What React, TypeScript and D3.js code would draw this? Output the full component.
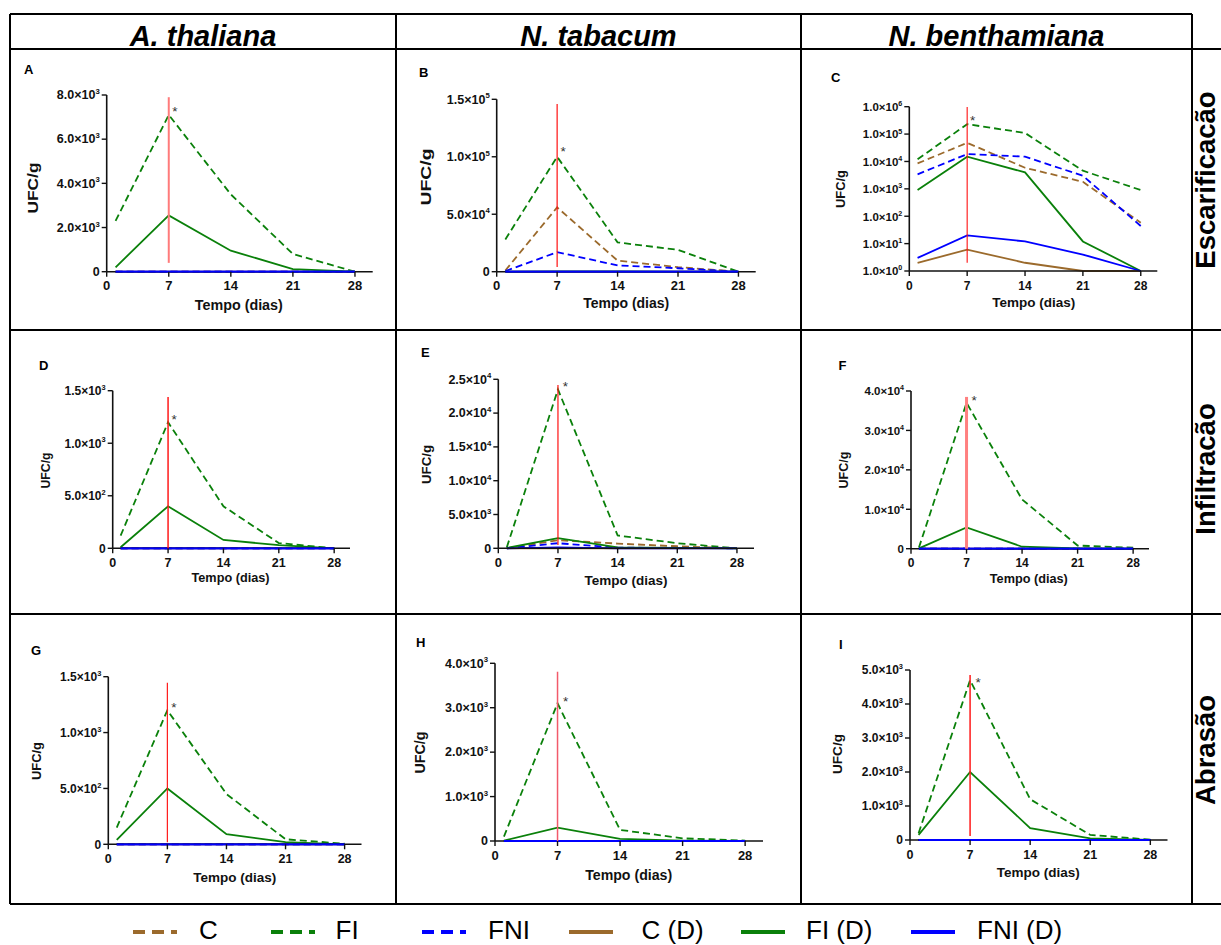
import React from "react";
import * as d3 from "d3";

// sampling days (x) and series order
const days = [1, 7, 14, 21, 28];
const seriesNames = ["C", "FI", "FNI", "C (D)", "FI (D)", "FNI (D)"];
const seriesColors = ["#9b6a2c", "#0a800a", "#0000ff", "#9b6a2c", "#0a800a", "#0000ff"];
const seriesDashed = [true, true, true, false, false, false];

const columnTitles = ["A. thaliana", "N. tabacum", "N. benthamiana"];
const rowTitles = ["Escarificacão", "Infiltracão", "Abrasão"];
const xTicks = [0, 7, 14, 21, 28];

// values per panel, in seriesNames order (UFC/g)
const valuesA = [
  [0, 0, 0, 0, 0],
  [2300, 7100, 3500, 800, 0],
  [0, 0, 0, 0, 0],
  [0, 0, 0, 0, 0],
  [200, 2550, 950, 120, 0],
  [0, 0, 0, 0, 0],
];
const valuesB = [
  [1000, 56000, 9600, 4000, 0],
  [28000, 100000, 25500, 19000, 0],
  [500, 17000, 5500, 3000, 0],
  [0, 0, 0, 0, 0],
  [100, 300, 200, 50, 0],
  [0, 0, 0, 0, 0],
];
const valuesC = [
  [8500, 48000, 5900, 1800, 58],
  [12000, 230000, 110000, 4600, 900],
  [3400, 18600, 15000, 3000, 44],
  [2, 6, 2, 1, 1],
  [900, 15000, 4000, 12, 1],
  [3, 20, 12, 4, 1],
];
const valuesD = [
  [0, 0, 0, 0, 0],
  [120, 1200, 400, 50, 0],
  [0, 0, 0, 0, 0],
  [0, 0, 0, 0, 0],
  [10, 400, 80, 30, 0],
  [0, 0, 0, 0, 0],
];
const valuesE = [
  [0, 1200, 700, 300, 0],
  [150, 23500, 1900, 750, 0],
  [0, 750, 100, 50, 0],
  [0, 0, 0, 0, 0],
  [50, 1500, 150, 50, 0],
  [0, 150, 0, 0, 0],
];
const valuesF = [
  [0, 0, 0, 0, 0],
  [300, 37000, 12500, 800, 250],
  [0, 0, 0, 0, 0],
  [0, 0, 0, 0, 0],
  [100, 5400, 500, 100, 0],
  [0, 0, 0, 0, 0],
];
const valuesG = [
  [0, 0, 0, 0, 0],
  [150, 1200, 450, 45, 5],
  [0, 0, 0, 0, 0],
  [0, 0, 0, 0, 0],
  [40, 500, 90, 20, 0],
  [0, 0, 0, 0, 0],
];
const valuesH = [
  [0, 0, 0, 0, 0],
  [100, 3100, 250, 60, 10],
  [0, 0, 0, 0, 0],
  [0, 0, 0, 0, 0],
  [10, 300, 50, 10, 0],
  [0, 0, 0, 0, 0],
];
const valuesI = [
  [0, 0, 0, 0, 0],
  [200, 4700, 1200, 150, 10],
  [0, 0, 0, 0, 0],
  [0, 0, 0, 0, 0],
  [150, 2000, 350, 50, 0],
  [0, 0, 0, 0, 0],
];

// y tick values per panel
const yTicksA = [0, 2000, 4000, 6000, 8000];
const yTicksB = [0, 50000, 100000, 150000];
const yTicksC = [1, 10, 100, 1000, 10000, 100000, 1000000];
const yTicksD = [0, 500, 1000, 1500];
const yTicksE = [0, 5000, 10000, 15000, 20000, 25000];
const yTicksF = [0, 10000, 20000, 30000, 40000];
const yTicksG = [0, 500, 1000, 1500];
const yTicksH = [0, 1000, 2000, 3000, 4000];
const yTicksI = [0, 1000, 2000, 3000, 4000, 5000];

// marker at day 7: vertical line extent and asterisk height (data units)
const markerA = { top: 7900, bottom: 400, star: 7400 };
const markerB = { top: 146000, bottom: 4000, star: 107000 };
const markerC = { top: 970000, bottom: 2, star: 420000 };
const markerD = { top: 1440, bottom: 0, star: 1250 };
const markerE = { top: 24150, bottom: 490, star: 24400 };
const markerF = { top: 38500, bottom: 0, star: 38400 };
const markerG = { top: 1446, bottom: 18, star: 1253 };
const markerH = { top: 3810, bottom: 0, star: 3200 };
const markerI = { top: 4850, bottom: 120, star: 4735 };

const FONT = "'Liberation Sans', Arial, Helvetica, sans-serif";

type Panel = {
  letter: string;
  values: number[][];
  yTicks: number[];
  marker: { top: number; bottom: number; star: number };
  log?: boolean;
  x0: number; x1: number; yTop: number; yBase: number;
  letterPos: [number, number];
  tickFs: number;
  yTitle: [number, number, number, number]; // cx, cy, length, font
  xTitle: [number, number, number, number];
  red: string; redW: number; starDx: number;
};

const panels: Panel[] = [
  { letter: "A", values: valuesA, yTicks: yTicksA, marker: markerA, x0: 106.7, x1: 372.7, yTop: 95, yBase: 271.7,
    letterPos: [24, 74], tickFs: 12.5, yTitle: [32.5, 188, 51, 15], xTitle: [238.8, 310, 88, 14], red: "#ff7b7b", redW: 2, starDx: 6 },
  { letter: "B", values: valuesB, yTicks: yTicksB, marker: markerB, x0: 496.7, x1: 755.7, yTop: 99.3, yBase: 271.7,
    letterPos: [419, 77], tickFs: 12.5, yTitle: [425.5, 177, 57, 14], xTitle: [626.2, 308.3, 86, 14], red: "#ff1010", redW: 1.2, starDx: 6 },
  { letter: "C", values: valuesC, yTicks: yTicksC, marker: markerC, log: true, x0: 909.3, x1: 1157.3, yTop: 106.7, yBase: 271,
    letterPos: [831, 82], tickFs: 11.5, yTitle: [840, 189, 38, 12.5], xTitle: [1033.7, 307.3, 83, 13.5], red: "#ff1010", redW: 1.1, starDx: 5.5 },
  { letter: "D", values: valuesD, yTicks: yTicksD, marker: markerD, x0: 112.7, x1: 350, yTop: 390.7, yBase: 548.3,
    letterPos: [39, 370], tickFs: 12, yTitle: [45.5, 470.5, 36, 12], xTitle: [230.5, 582, 78, 12.5], red: "#ff1a1a", redW: 1.5, starDx: 6 },
  { letter: "E", values: valuesE, yTicks: yTicksE, marker: markerE, x0: 498.3, x1: 754, yTop: 379.3, yBase: 548.3,
    letterPos: [421, 357.3], tickFs: 12.5, yTitle: [426.5, 464.5, 39, 13], xTitle: [626, 585, 83, 13.5], red: "#ff1010", redW: 1.2, starDx: 7.5 },
  { letter: "F", values: valuesF, yTicks: yTicksF, marker: markerF, x0: 911, x1: 1149, yTop: 391, yBase: 548.7,
    letterPos: [838.5, 370], tickFs: 11.5, yTitle: [843.5, 470, 37, 12], xTitle: [1028.8, 582.7, 78, 12.5], red: "#ff8080", redW: 3, starDx: 7.5 },
  { letter: "G", values: valuesG, yTicks: yTicksG, marker: markerG, x0: 108.3, x1: 361.5, yTop: 676.7, yBase: 844.3,
    letterPos: [31, 655], tickFs: 12, yTitle: [36.8, 761, 38, 13], xTitle: [234.7, 881.7, 83, 13.5], red: "#ff1a1a", redW: 1.2, starDx: 6.5 },
  { letter: "H", values: valuesH, yTicks: yTicksH, marker: markerH, x0: 495, x1: 763, yTop: 663.3, yBase: 841,
    letterPos: [416, 646.7], tickFs: 12.5, yTitle: [419.5, 752.5, 42, 14], xTitle: [628.7, 880, 87, 14], red: "#f25a6a", redW: 1.5, starDx: 8 },
  { letter: "I", values: valuesI, yTicks: yTicksI, marker: markerI, x0: 910, x1: 1167.5, yTop: 670, yBase: 840,
    letterPos: [839, 649.3], tickFs: 12, yTitle: [837.5, 754, 40, 13], xTitle: [1038.3, 876.7, 83, 13.5], red: "#ff1a1a", redW: 1.5, starDx: 8 },
];

function tickParts(v: number): [string, string] | null {
  if (v === 0) return null;
  const e = Math.floor(Math.log10(v) + 1e-9);
  const m = v / Math.pow(10, e);
  return [m.toFixed(1), String(e)];
}

function PanelChart({ p }: { p: Panel }) {
  const xs = d3.scaleLinear().domain([0, 30]).range([p.x0, p.x1]);
  const yMax = p.yTicks[p.yTicks.length - 1];
  const ys = p.log
    ? d3.scaleLog().domain([1, yMax]).range([p.yBase, p.yTop])
    : d3.scaleLinear().domain([0, yMax]).range([p.yBase, p.yTop]);
  const line = d3
    .line<number>()
    .x((_, i) => xs(days[i]))
    .y((d) => ys(d));
  const fs = p.tickFs;
  const redX = xs(7);
  return (
    <g>
      <text x={p.letterPos[0]} y={p.letterPos[1]} fontSize={13} fontWeight="bold" fontFamily={FONT}>
        {p.letter}
      </text>
      {/* data lines */}
      {p.values.map((vals, i) => (
        <path
          key={i}
          d={line(vals) || ""}
          fill="none"
          stroke={seriesColors[i]}
          strokeWidth={1.8}
          strokeDasharray={seriesDashed[i] ? "7,4" : undefined}
        />
      ))}
      {/* axes */}
      <line x1={p.x0} x2={p.x0} y1={p.yTop} y2={p.yBase} stroke="#111" strokeWidth={1.6} />
      <line x1={p.x0} x2={p.x1} y1={p.yBase} y2={p.yBase} stroke="#111" strokeWidth={1.6} />
      {p.values[5].every((v) => v === 0) && !p.log ? (
        <path d={line(p.values[5]) || ""} fill="none" stroke={seriesColors[5]} strokeWidth={1.8} />
      ) : null}
      {p.yTicks.map((t) => {
        const y = ys(t);
        const parts = tickParts(t);
        const isZero = p.log ? false : t === 0;
        return (
          <g key={t}>
            <line x1={p.x0 - 5} x2={p.x0} y1={y} y2={y} stroke="#111" strokeWidth={1.4} />
            <text x={p.x0 - 7} y={y + 4.3} textAnchor="end" fontSize={fs} fontWeight="bold" fontFamily={FONT} fill="#111">
              {isZero || !parts ? (
                "0"
              ) : (
                <>
                  {parts[0]}×10
                  <tspan dy={-fs * 0.42} fontSize={fs * 0.62}>
                    {parts[1]}
                  </tspan>
                </>
              )}
            </text>
          </g>
        );
      })}
      {xTicks.map((t) => (
        <g key={t}>
          <line x1={xs(t)} x2={xs(t)} y1={p.yBase} y2={p.yBase + 5} stroke="#111" strokeWidth={1.4} />
          <text x={xs(t)} y={p.yBase + 18.5} textAnchor="middle" fontSize={fs + 0.5} fontWeight="bold" fontFamily={FONT} fill="#111">
            {t}
          </text>
        </g>
      ))}
      {/* day 7 marker */}
      <line x1={redX} x2={redX} y1={ys(p.marker.top)} y2={ys(p.marker.bottom)} stroke={p.red} strokeWidth={p.redW} />
      <text x={redX + p.starDx} y={ys(p.marker.star) + 7.5} textAnchor="middle" fontSize={13.5} fontFamily={FONT} fill="#333">
        *
      </text>
      {/* titles */}
      <text
        transform={`translate(${p.yTitle[0]},${p.yTitle[1]}) rotate(-90)`}
        textAnchor="middle"
        dy="0.36em"
        fontSize={p.yTitle[3]}
        fontWeight="bold"
        fontFamily={FONT}
        textLength={p.yTitle[2]}
        lengthAdjust="spacingAndGlyphs"
        fill="#111"
      >
        UFC/g
      </text>
      <text
        x={p.xTitle[0]}
        y={p.xTitle[1]}
        textAnchor="middle"
        fontSize={p.xTitle[3]}
        fontWeight="bold"
        fontFamily={FONT}
        textLength={p.xTitle[2]}
        lengthAdjust="spacingAndGlyphs"
        fill="#111"
      >
        Tempo (dias)
      </text>
    </g>
  );
}

// legend entries: symbol start x, text x
const legendSymbolX = [133, 271, 422, 569, 741, 911];
const legendTextX = [199, 335.5, 488, 641.5, 806, 977];

export default function App() {
  const W = 1221;
  const H = 945;
  const colX = [10, 396, 801, 1192];
  const rowY = [14, 49, 330, 614, 904];
  const rowCenters = [180, 469, 750];
  return (
    <svg
      width={W}
      height={H}
      viewBox={`0 0 ${W} ${H}`}
      style={{ position: "absolute", left: 0, top: 0, display: "block", background: "#fff" }}
    >
      <rect x={0} y={0} width={W} height={H} fill="#fff" />
      {/* table grid */}
      <line x1={colX[0]} x2={colX[3]} y1={rowY[0]} y2={rowY[0]} stroke="#000" strokeWidth={2} />
      {rowY.slice(1).map((y) => (
        <line key={y} x1={colX[0]} x2={W} y1={y} y2={y} stroke="#000" strokeWidth={2} />
      ))}
      {colX.map((x) => (
        <line key={x} x1={x} x2={x} y1={rowY[0]} y2={rowY[4]} stroke="#000" strokeWidth={2} />
      ))}
      {columnTitles.map((t, i) => (
        <text
          key={t}
          x={(colX[i] + colX[i + 1]) / 2}
          y={45.5}
          textAnchor="middle"
          fontSize={29}
          fontWeight="bold"
          fontStyle="italic"
          fontFamily={FONT}
        >
          {t}
        </text>
      ))}
      {rowTitles.map((t, i) => (
        <text
          key={t}
          transform={`translate(1214.5,${rowCenters[i]}) rotate(-90)`}
          textAnchor="middle"
          fontSize={27.5}
          fontWeight="bold"
          fontFamily={FONT}
        >
          {t}
        </text>
      ))}
      {panels.map((p) => (
        <PanelChart key={p.letter} p={p} />
      ))}
      {/* legend */}
      {seriesNames.map((name, i) => (
        <g key={name}>
          <line
            x1={legendSymbolX[i]}
            x2={legendSymbolX[i] + 44}
            y1={932}
            y2={932}
            stroke={seriesColors[i]}
            strokeWidth={4}
            strokeDasharray={seriesDashed[i] ? "12,7" : undefined}
          />
          <text x={legendTextX[i]} y={939} fontSize={26} fontFamily={FONT} fill="#000">
            {name}
          </text>
        </g>
      ))}
    </svg>
  );
}
